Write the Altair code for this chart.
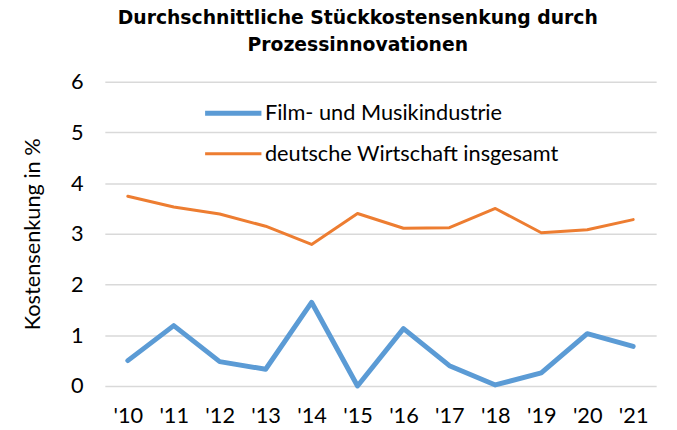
import altair as alt
import pandas as pd

years = ["'10", "'11", "'12", "'13", "'14", "'15", "'16", "'17", "'18", "'19", "'20", "'21"]
film = [0.50, 1.19, 0.48, 0.33, 1.65, 0.00, 1.13, 0.40, 0.02, 0.26, 1.03, 0.78]
wirtschaft = [3.74, 3.53, 3.39, 3.15, 2.79, 3.40, 3.11, 3.12, 3.50, 3.02, 3.08, 3.28]
series_names = ["Film- und Musikindustrie", "deutsche Wirtschaft insgesamt"]
colors = ["#5B9BD5", "#ED7D31"]
widths = [5, 3]
y_ticks = [0, 1, 2, 3, 4, 5, 6]

rows = []
for name, vals in zip(series_names, [film, wirtschaft]):
    for yr, v in zip(years, vals):
        rows.append({"year": yr, "value": v, "series": name})
df = pd.DataFrame(rows)

FONT = "Lato"
FS = 22

legend = alt.Legend(
    title=None,
    orient="none",
    legendX=99,
    legendY=1,
    symbolType="stroke",
    symbolSize=3249,
    labelFont=FONT,
    labelFontSize=FS,
    labelColor="#000000",
    labelLimit=400,
    labelOffset=1,
    rowPadding=-16,
)

chart = (
    alt.Chart(df)
    .mark_line(strokeCap="round", strokeJoin="round")
    .encode(
        x=alt.X(
            "year:N",
            sort=years,
            scale=alt.Scale(type="point", padding=0.5),
            axis=alt.Axis(
                title=None,
                labelAngle=0,
                domain=False,
                ticks=False,
                grid=False,
                labelFont=FONT,
                labelFontSize=FS,
                labelColor="#000000",
                labelPadding=20,
            ),
        ),
        y=alt.Y(
            "value:Q",
            scale=alt.Scale(domain=[0, 6], nice=False),
            axis=alt.Axis(
                values=y_ticks,
                title="Kostensenkung in %",
                titleFont=FONT,
                titleFontSize=FS,
                titleFontWeight="normal",
                titleColor="#000000",
                titlePadding=26,
                domain=False,
                ticks=False,
                labelFont=FONT,
                labelFontSize=FS,
                labelColor="#000000",
                labelPadding=22,
                gridColor="#d9d9d9",
                gridWidth=1.5,
            ),
        ),
        color=alt.Color(
            "series:N",
            sort=series_names,
            scale=alt.Scale(domain=series_names, range=colors),
            legend=legend,
        ),
        strokeWidth=alt.StrokeWidth(
            "series:N",
            sort=series_names,
            scale=alt.Scale(domain=series_names, range=widths),
            legend=legend,
        ),
    )
    .properties(
        width=558,
        height=308,
        autosize=alt.AutoSizeParams(type="none"),
        padding={"left": 98, "top": 72, "right": 13, "bottom": 42},
        title=alt.TitleParams(
            text=["Durchschnittliche Stückkostensenkung durch", "Prozessinnovationen"],
            font="DejaVu Sans",
            fontSize=19,
            fontWeight="bold",
            color="#000000",
            anchor="middle",
            dx=-23,
            offset=16,
            lineHeight=27,
        ),
    )
    .configure_view(stroke=None)
)

chart.save("out.html", embed_options={"renderer": "svg", "actions": False})
